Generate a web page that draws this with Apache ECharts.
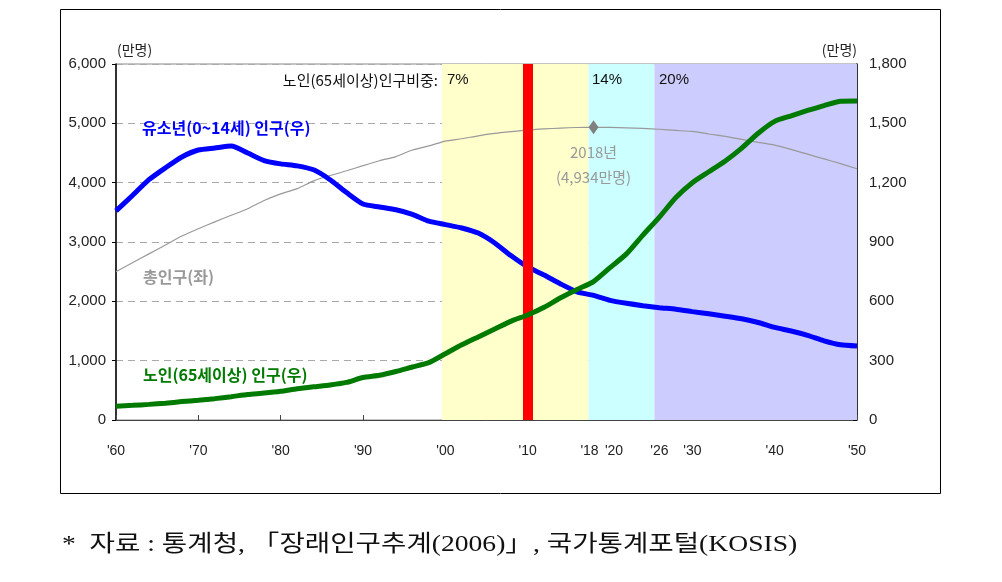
<!DOCTYPE html>
<html><head><meta charset="utf-8">
<script src="https://cdn.jsdelivr.net/npm/echarts@6/dist/echarts.min.js"></script>
<style>html,body{margin:0;padding:0;background:#fff}#c{width:1002px;height:582px}</style>
</head><body><div id="c"></div>
<script>
const years = [1960,1962,1964,1966,1968,1970,1972,1974,1976,1978,1980,1982,1984,1986,1988,1990,1992,1994,1996,1998,2000,2002,2004,2006,2008,2010,2012,2014,2016,2018,2020,2022,2024,2026,2028,2030,2032,2034,2036,2038,2040,2042,2044,2046,2048,2050];
// 총인구 (좌축, 만명)
const totalPop = [2500,2650,2800,2950,3100,3224,3340,3450,3560,3700,3812,3900,4030,4120,4200,4287,4370,4440,4550,4620,4701,4740,4790,4830,4860,4887,4905,4920,4930,4934,4932,4925,4915,4900,4880,4863,4820,4780,4730,4680,4634,4560,4480,4400,4320,4234];
// 유소년(0~14세) 인구 (우축, 만명)
const youthPop = [1057,1135,1215,1275,1330,1365,1375,1385,1350,1312,1295,1285,1265,1215,1150,1092,1077,1063,1040,1005,988,971,945,895,830,774,733,688,648,630,605,590,578,568,560,548,537,525,512,493,468,450,428,400,380,374];
// 노인(65세이상) 인구 (우축, 만명)
const elderPop = [70,74,79,85,93,100,108,118,129,136,145,158,168,177,190,215,226,245,268,290,335,380,420,460,500,531,570,618,660,700,770,840,935,1026,1125,1200,1255,1310,1375,1450,1510,1538,1565,1590,1612,1613];
const xTickYears = [1960,1970,1980,1990,2000,2010,2018,2020,2026,2030,2040,2050];
const bandEdges = [1999.6, 2017.4, 2025.4, 2050];
const bandLabels = ['7%', '14%', '20%'];
const currentYear = 2010;
const peak = {year: 2018, value: 4934};

const chart = echarts.init(document.getElementById('c'), null, {renderer: 'canvas'});
const numFont = '"Liberation Sans", Arial, sans-serif';
const krFont = '"Noto Sans CJK KR", sans-serif';
const zip = (a) => years.map((y, i) => [y, a[i]]);
const bandColors = ['#FFFFCC', '#CCFFFF', '#CCCCFF'];

chart.setOption({
  animation: false,
  grid: {left: 116, right: 145, top: 64, bottom: 162, show: true, borderColor: '#888', borderWidth: 1, backgroundColor: 'transparent'},
  xAxis: {
    type: 'value', min: 1960, max: 2050,
    axisLine: {lineStyle: {color: '#444', width: 1}},
    axisTick: {inside: true, length: 5, customValues: xTickYears, lineStyle: {color: '#444'}},
    axisLabel: {customValues: xTickYears, color: '#222', fontFamily: numFont, fontSize: 14, margin: 24,
      formatter: v => {
        const s = "'" + String(v).slice(2);
        if (v === 2018) return '{l|' + s + '}';
        if (v === 2020) return '{r|' + s + '}';
        return s;
      },
      rich: {
        l: {padding: [0, 8, 0, 0], fontFamily: numFont, fontSize: 14, color: '#222'},
        r: {padding: [0, 0, 0, 8], fontFamily: numFont, fontSize: 14, color: '#222'}
      }
    },
    splitLine: {show: false}
  },
  yAxis: [{
    type: 'value', min: 0, max: 6000, interval: 1000,
    axisLine: {show: true, lineStyle: {color: '#000', width: 1.5}},
    axisTick: {show: true, length: 4, lineStyle: {color: '#000'}},
    axisLabel: {color: '#222', fontFamily: numFont, fontSize: 15, margin: 10},
    splitLine: {show: true, lineStyle: {color: '#aaa', type: [7, 5], width: 1}}
  }, {
    type: 'value', min: 0, max: 1800, interval: 300,
    axisLine: {show: true, lineStyle: {color: '#000', width: 1.5}},
    axisTick: {show: true, inside: true, length: 4, lineStyle: {color: '#000'}},
    axisLabel: {color: '#222', fontFamily: numFont, fontSize: 15, margin: 12},
    splitLine: {show: false}
  }],
  series: [{
    name: 'bands', type: 'line', data: [], z: 1, silent: true,
    markArea: {silent: true, data: bandColors.map((c, i) => [
      {xAxis: bandEdges[i], itemStyle: {color: c, opacity: 1}}, {xAxis: bandEdges[i + 1]}
    ])}
  }, {
    name: 'now', type: 'line', data: [], z: 2, silent: true,
    markLine: {silent: true, symbol: 'none', label: {show: false}, animation: false,
      lineStyle: {color: '#FF0000', width: 10, type: 'solid'}, data: [{xAxis: currentYear}]}
  }, {
    name: '총인구(좌)', type: 'line', yAxisIndex: 0, z: 3, data: zip(totalPop), showSymbol: false,
    lineStyle: {color: '#999', width: 1.2}, smooth: 0.2,
    markPoint: {symbol: 'diamond', symbolSize: [10, 14], itemStyle: {color: '#808080'},
      data: [{coord: [peak.year, peak.value]}],
      label: {show: true, position: 'bottom', distance: 6, color: '#999', fontFamily: krFont, fontSize: 15, lineHeight: 25,
        formatter: () => peak.year + '년\n(' + peak.value.toLocaleString('en-US') + '만명)'}}
  }, {
    name: '유소년(0~14세) 인구(우)', type: 'line', yAxisIndex: 1, z: 4, data: zip(youthPop), showSymbol: false,
    lineStyle: {color: '#0000FF', width: 5}, smooth: 0.2
  }, {
    name: '노인(65세이상) 인구(우)', type: 'line', yAxisIndex: 1, z: 5, data: zip(elderPop), showSymbol: false,
    lineStyle: {color: '#007A00', width: 5}, smooth: 0.2
  }],
  graphic: [
    {type: 'rect', shape: {x: 60.5, y: 9.5, width: 880, height: 484}, style: {fill: 'none', stroke: '#000', lineWidth: 1}, z: 0},
    {type: 'text', x: 117, y: 50, style: {text: '(만명)', font: '14px ' + krFont, fill: '#222', verticalAlign: 'middle'}},
    {type: 'text', x: 857, y: 50, style: {text: '(만명)', font: '14px ' + krFont, fill: '#222', verticalAlign: 'middle', align: 'right'}},
    {type: 'text', x: 438, y: 80, style: {text: '노인(65세이상)인구비중:', font: '15px ' + krFont, fill: '#111', verticalAlign: 'middle', align: 'right'}, z: 10},
    {type: 'text', x: 447, y: 80, style: {text: bandLabels[0], font: '15px ' + numFont, fill: '#111', verticalAlign: 'middle'}, z: 10},
    {type: 'text', x: 592, y: 80, style: {text: bandLabels[1], font: '15px ' + numFont, fill: '#111', verticalAlign: 'middle'}, z: 10},
    {type: 'text', x: 659, y: 80, style: {text: bandLabels[2], font: '15px ' + numFont, fill: '#111', verticalAlign: 'middle'}, z: 10},
    {type: 'text', x: 142, y: 128, style: {text: '유소년(0~14세) 인구(우)', font: 'bold 16px ' + krFont, fill: '#0000FF', verticalAlign: 'middle'}, z: 10},
    {type: 'text', x: 143, y: 277, style: {text: '총인구(좌)', font: 'bold 16px ' + krFont, fill: '#999', verticalAlign: 'middle'}, z: 10},
    {type: 'text', x: 143, y: 375, style: {text: '노인(65세이상) 인구(우)', font: 'bold 16px ' + krFont, fill: '#007A00', verticalAlign: 'middle'}, z: 10},
    {type: 'text', x: 62, y: 545, scaleX: 1.2, style: {text: '*  자료 : 통계청, 「장래인구추계(2006)」, 국가통계포털(KOSIS)', font: '23px "Liberation Serif", "Noto Sans CJK KR", serif', fill: '#111', verticalAlign: 'middle'}}
  ]
});
</script></body></html>
